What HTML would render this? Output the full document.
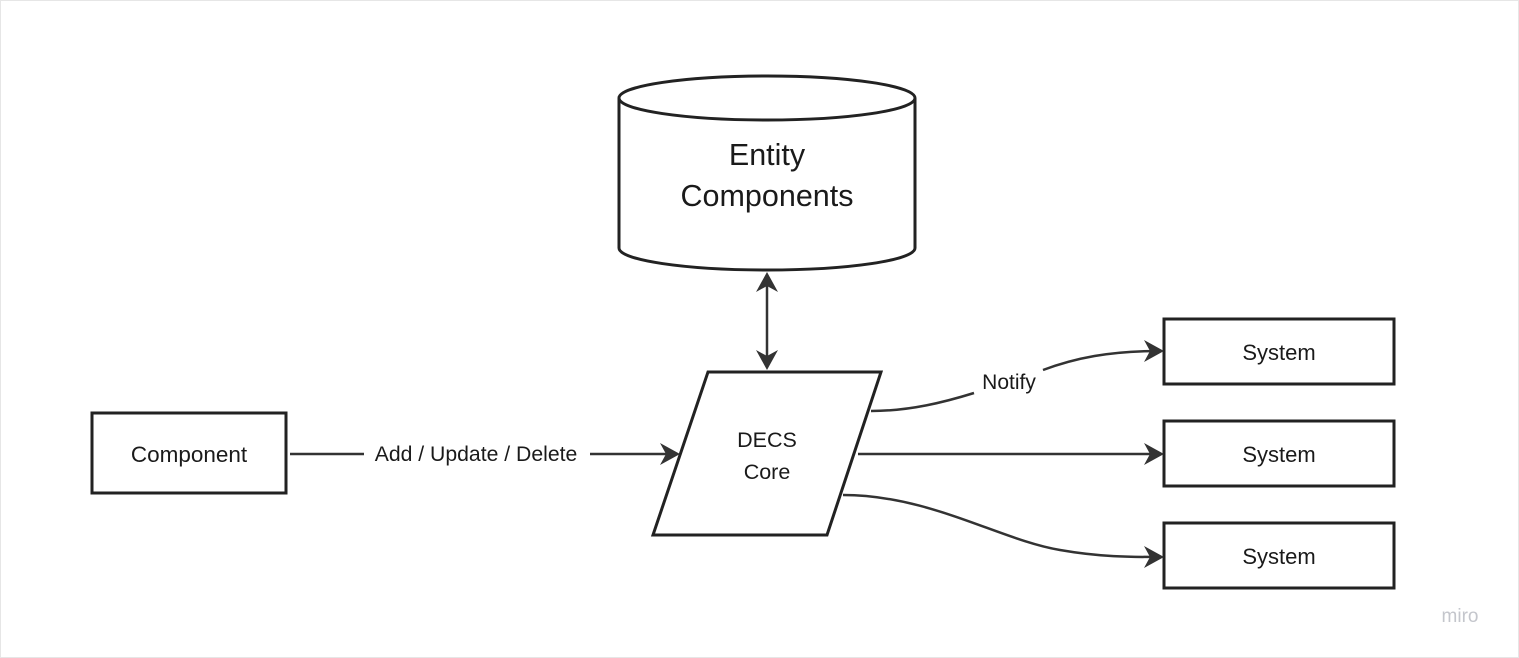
<!DOCTYPE html>
<html><head><style>
html,body{margin:0;padding:0;background:#fff;}
svg{display:block;}
text{font-family:"Liberation Sans",sans-serif;fill:#1a1a1a;}
</style></head><body>
<svg width="1519" height="658" viewBox="0 0 1519 658">
<rect x="0.5" y="0.5" width="1518" height="657" fill="#fff" stroke="#e6e6e6"/>
<g stroke="#222" stroke-width="3" fill="#fff">
<path d="M619,98 L619,248 A148,22 0 0 0 915,248 L915,98"/>
<ellipse cx="767" cy="98" rx="148" ry="22"/>
<polygon points="708,372 881,372 827,535 653,535"/>
<rect x="92" y="413" width="194" height="80"/>
<rect x="1164" y="319" width="230" height="65"/>
<rect x="1164" y="421" width="230" height="65"/>
<rect x="1164" y="523" width="230" height="65"/>
</g>
<g stroke="#333" stroke-width="2.5" fill="none">
<line x1="767" y1="276" x2="767" y2="366"/>
<line x1="290" y1="454" x2="364" y2="454"/>
<line x1="590" y1="454" x2="672" y2="454"/>
<line x1="858" y1="454" x2="1158" y2="454"/>
<path d="M871,411 C910,411 945,402 974,393"/>
<path d="M1043,370 C1075,358 1110,351 1158,351"/>
<path d="M843,495 C930,495 1000,540 1060,550 C1100,557 1130,557 1158,557"/>
</g>
<g fill="#333">
<path d="M767,272 L778,292 L767,286 L756,292 Z"/>
<path d="M767,370 L778,350 L767,356 L756,350 Z"/>
<path d="M680,454 L660,443 L666,454 L660,465 Z"/>
<path d="M1164,454 L1144,443 L1150,454 L1144,465 Z"/>
<path d="M1164,351 L1144,340 L1150,351 L1144,362 Z"/>
<path d="M1164,557 L1144,546 L1150,557 L1144,568 Z"/>
</g>
<text x="767" y="165" font-size="30.5" text-anchor="middle">Entity</text>
<text x="767" y="206" font-size="30.5" text-anchor="middle">Components</text>
<text x="767" y="447" font-size="21.5" text-anchor="middle">DECS</text>
<text x="767" y="479" font-size="21.5" text-anchor="middle">Core</text>
<text x="189" y="462" font-size="22.5" text-anchor="middle">Component</text>
<text x="476" y="461" font-size="21.2" text-anchor="middle" fill="#333">Add / Update / Delete</text>
<text x="1009" y="389" font-size="21" text-anchor="middle" fill="#333">Notify</text>
<text x="1279" y="360" font-size="22" text-anchor="middle">System</text>
<text x="1279" y="462" font-size="22" text-anchor="middle">System</text>
<text x="1279" y="564" font-size="22" text-anchor="middle">System</text>
<text x="1460" y="622" font-size="19" text-anchor="middle" style="fill:#c4c6cc">miro</text>
</svg>
</body></html>
